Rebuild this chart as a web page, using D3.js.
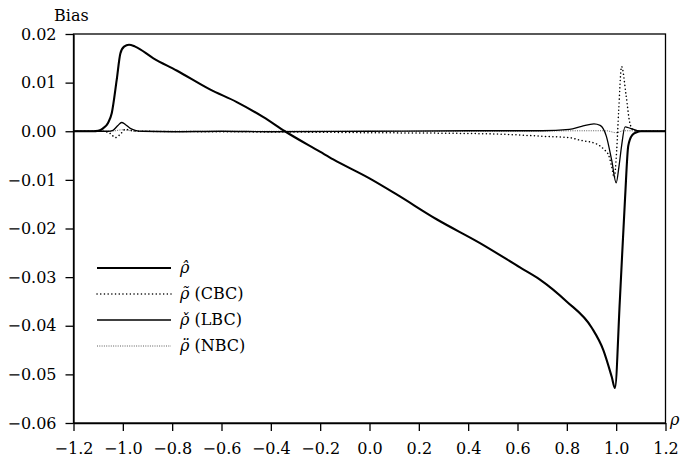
<!DOCTYPE html>
<html>
<head>
<meta charset="utf-8">
<script src="https://cdn.jsdelivr.net/npm/d3@7"></script>
<style>
  body { margin: 0; background: #fff; }
  svg { display: block; }
  text { font-family: "DejaVu Serif", "Liberation Serif", serif; fill: #000; }
</style>
</head>
<body>
<svg id="chart" width="680" height="460"></svg>
<script>
// ---- data ----
const xTicks = [-1.2, -1.0, -0.8, -0.6, -0.4, -0.2, 0.0, 0.2, 0.4, 0.6, 0.8, 1.0, 1.2];
const yTicks = [0.02, 0.01, 0.00, -0.01, -0.02, -0.03, -0.04, -0.05, -0.06];

const rhoX = [-1.20, -1.12, -1.10, -1.08, -1.06, -1.045, -1.025, -1.01, -0.995, -0.975, -0.95,
  -0.876, -0.782, -0.647, -0.538, -0.430, -0.343, -0.201, -0.147, 0.0, 0.110, 0.272, 0.448,
  0.610, 0.691, 0.799, 0.901, 0.948, 0.982, 0.995, 1.015, 1.036, 1.049, 1.065, 1.083, 1.10, 1.20];
const rhoY = [0, 0, 0.0001, 0.0006, 0.0017, 0.0037, 0.0105, 0.0160, 0.0174, 0.0178, 0.0174,
  0.0150, 0.0125, 0.0086, 0.0060, 0.0029, 0.0, -0.0042, -0.0058, -0.0097, -0.0130, -0.0181, -0.0230,
  -0.0280, -0.0305, -0.0350, -0.0404, -0.0450, -0.0505, -0.0528, -0.0347, -0.0138, -0.0030, -0.0008, -0.0002, 0, 0];

const cbcX = [-1.2, -1.08, -1.05, -1.03, -1.01, -0.99, -0.97, -0.94, -0.6, -0.2, 0.0, 0.3, 0.53,
  0.73, 0.81, 0.85, 0.92, 0.95, 0.97, 0.982, 0.992, 1.002, 1.01, 1.022, 1.04, 1.055, 1.07, 1.09, 1.2];
const cbcY = [0, 0, -0.0005, -0.0013, -0.0006, 0.0004, 0.0002, 0, -0.0001, -0.0002, -0.0003, -0.0004, -0.0006,
  -0.0011, -0.0013, -0.0018, -0.0026, -0.0037, -0.0050, -0.0073, -0.0095, -0.0040, 0.0040, 0.0133, 0.0075, 0.0018, 0.0002, 0, 0];

const lbcX = [-1.2, -1.06, -1.04, -1.02, -1.005, -0.99, -0.97, -0.95, -0.92, -0.8, -0.6, -0.4, 0.0,
  0.4, 0.7, 0.81, 0.86, 0.91, 0.935, 0.96, 0.982, 1.0, 1.012, 1.022, 1.036, 1.057, 1.083, 1.10, 1.2];
const lbcY = [0, 0, 0.0002, 0.0012, 0.0018, 0.0014, 0.0006, 0.0002, 0, -0.0001, 0.0, -0.0001, 0,
  0.0001, 0.0001, 0.0004, 0.0010, 0.0015, 0.0012, -0.0010, -0.0060, -0.0106, -0.0070, -0.0030, 0.0009, 0.0006, 0.0002, 0, 0];

const nbcX = [-1.2, -1.05, -1.0, -0.95, -0.5, 0.0, 0.5, 0.9, 0.96, 1.0, 1.03, 1.2];
const nbcY = [0, 0, 0.0003, 0, 0, 0, 0, 0.0001, 0.0001, -0.0003, 0.0001, 0];

const seriesNames = ["ρ̂", "ρ̃ (CBC)", "ρ̌ (LBC)", "ρ̈ (NBC)"];

// ---- layout ----
const svg = d3.select("#chart");
const L = 73.5, R = 665.5, T = 34, B = 423;
const x = d3.scaleLinear().domain([-1.2, 1.2]).range([L, R]);
const y = d3.scaleLinear().domain([-0.06, 0.02]).range([B, T]);

svg.append("defs").append("clipPath").attr("id", "clip")
  .append("rect").attr("x", L).attr("y", T).attr("width", R - L).attr("height", B - T);

// frame
svg.append("rect").attr("x", L).attr("y", T).attr("width", R - L).attr("height", B - T)
  .attr("fill", "none").attr("stroke", "#000").attr("stroke-width", 1.3);

const yAxis = svg.append("g").attr("transform", `translate(${L},0)`)
  .call(d3.axisLeft(y).tickValues(yTicks).tickFormat(d3.format(".2f")).tickSize(8).tickSizeOuter(0).tickPadding(9));
const xAxis = svg.append("g").attr("transform", `translate(0,${B})`)
  .call(d3.axisBottom(x).tickValues(xTicks).tickFormat(d3.format(".1f")).tickSize(8).tickSizeOuter(0).tickPadding(12));
[yAxis, xAxis].forEach(g => {
  g.select(".domain").attr("stroke-width", 1.3);
  g.selectAll(".tick line").attr("stroke-width", 1.3);
  g.selectAll("text").attr("font-size", 16).attr("font-family", "DejaVu Serif, serif");
});

svg.append("text").attr("x", 54).attr("y", 21).attr("font-size", 16).text("Bias");
svg.append("text").attr("x", 670).attr("y", 425).attr("font-size", 16).attr("font-style", "italic").text("ρ");

// ---- lines ----
const line = d3.line().x(d => x(d[0])).y(d => y(d[1])).curve(d3.curveMonotoneX);
const plot = svg.append("g").attr("clip-path", "url(#clip)");
const styles = [
  { w: 2.1, dash: null, cap: "butt", c: "#000" },
  { w: 1.5, dash: "0.1,3.6", cap: "round", c: "#000" },
  { w: 1.3, dash: null, cap: "butt", c: "#000" },
  { w: 0.8, dash: "1,1.3", cap: "butt", c: "#333" }
];
const data = [
  d3.zip(nbcX, nbcY),
  d3.zip(cbcX, cbcY),
  d3.zip(lbcX, lbcY),
  d3.zip(rhoX, rhoY)
];
const order = [3, 1, 2, 0];
data.forEach((d, i) => {
  const s = styles[order[i]];
  plot.append("path").attr("d", line(d)).attr("fill", "none")
    .attr("stroke", s.c).attr("stroke-width", s.w)
    .attr("stroke-linecap", s.cap).attr("stroke-linejoin", "round")
    .attr("stroke-dasharray", s.dash);
});

// ---- legend ----
const legY = [268, 294, 320, 346];
seriesNames.forEach((name, i) => {
  const s = styles[i];
  svg.append("line").attr("x1", 97).attr("x2", 171).attr("y1", legY[i]).attr("y2", legY[i])
    .attr("stroke", s.c).attr("stroke-width", s.w).attr("stroke-linecap", s.cap)
    .attr("stroke-dasharray", s.dash);
  const t = svg.append("text").attr("x", 180).attr("y", legY[i] + 5).attr("font-size", 16);
  const parts = name.split(" ");
  t.append("tspan").attr("font-style", "italic").text(parts[0]);
  if (parts[1]) t.append("tspan").text(" " + parts[1]);
});
</script>
</body>
</html>
